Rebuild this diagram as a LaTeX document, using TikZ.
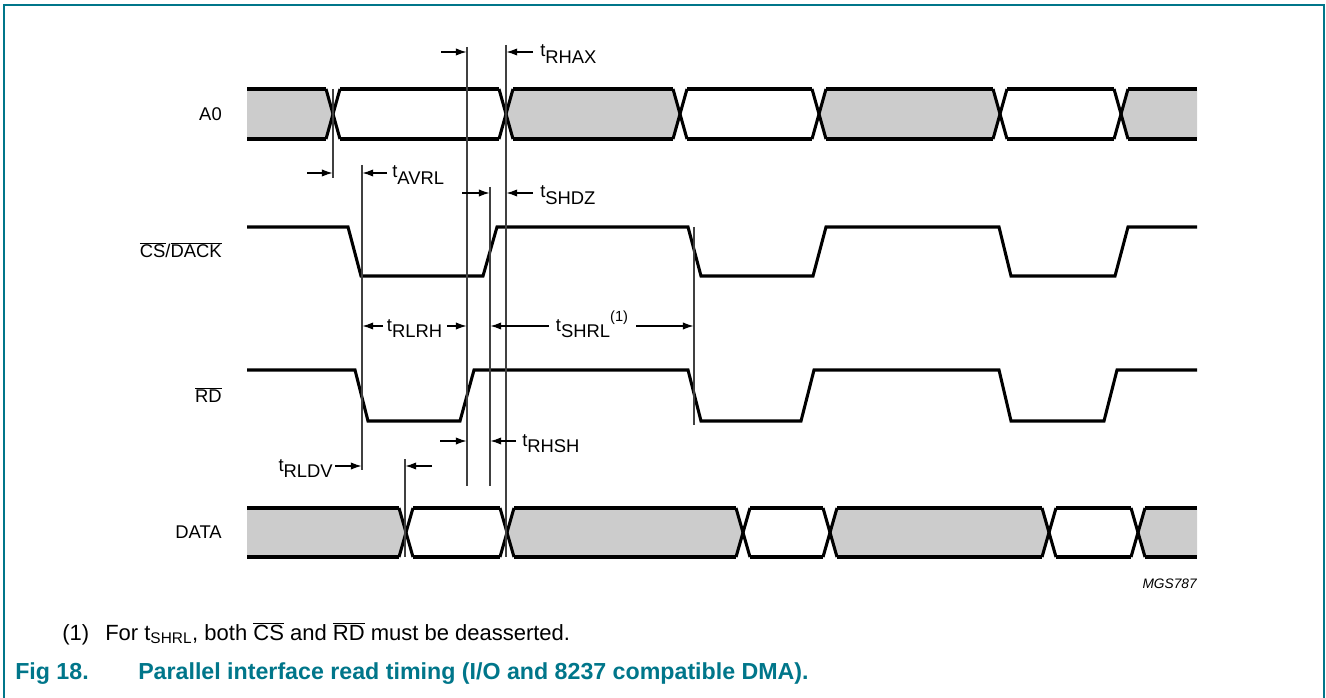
\documentclass[tikz,border=0pt]{standalone}
\usepackage{fontspec}
\setmainfont{Liberation Sans}
\usetikzlibrary{arrows.meta}
\definecolor{nxpteal}{RGB}{0,118,138}
\definecolor{busgray}{RGB}{204,204,204}
\newcommand\tm[1]{t\raisebox{-0.33em}{#1}}
\newcommand\ovl[1]{$\overline{\mbox{#1}}$}
\newcommand\lblfont{\fontsize{13.8}{16}\selectfont}
\begin{document}
\begin{tikzpicture}[x=0.75pt,y=-0.75pt,
  sig/.style={line width=2.3pt,line join=miter},
  guide/.style={line width=0.8pt,black!75},
  tarr/.style={line width=0.8pt,-{Latex[length=8pt,width=5.5pt]}},
  lbl/.style={inner sep=0pt,font=\lblfont},
  noteF/.style={inner sep=0pt,font=\fontsize{16.5}{19}\selectfont},
  capF/.style={inner sep=0pt,font=\fontsize{17.4}{20}\selectfont\bfseries,text=nxpteal}]
\useasboundingbox (0,0) rectangle (1326,698);
% frame
\draw[nxpteal,line width=1.6pt] (4,698) -- (4,5) -- (1324,5) -- (1324,698);

% A0 bus: top 89, bottom 139, mid 114 ; crossings 333,506,680,819,1000,1121
\def\bt{89}\def\bb{139}\def\bm{114}
\fill[busgray] (247,\bt) -- (326,\bt) -- (333,\bm) -- (326,\bb) -- (247,\bb) -- cycle;
\fill[busgray] (506,\bm) -- (513,\bt) -- (673,\bt) -- (680,\bm) -- (673,\bb) -- (513,\bb) -- cycle;
\fill[busgray] (819,\bm) -- (826,\bt) -- (993,\bt) -- (1000,\bm) -- (993,\bb) -- (826,\bb) -- cycle;
\fill[busgray] (1121,\bm) -- (1128,\bt) -- (1197,\bt) -- (1197,\bb) -- (1128,\bb) -- cycle;
\foreach \a/\b in {247/326,340/499,513/673,687/812,826/993,1007/1114,1128/1197}{
  \draw[sig] (\a,\bt) -- (\b,\bt); \draw[sig] (\a,\bb) -- (\b,\bb);}
\foreach \c in {333,506,680,819,1000,1121}{
  \draw[sig] (\c-7,\bt) -- (\c+7,\bb); \draw[sig] (\c-7,\bb) -- (\c+7,\bt);}

% DATA bus: top 508, bottom 557, mid 532.5 ; crossings 406,507,743,830,1049,1138
\def\dt{508}\def\db{557}\def\dm{532.5}
\fill[busgray] (247,\dt) -- (399,\dt) -- (406,\dm) -- (399,\db) -- (247,\db) -- cycle;
\fill[busgray] (507,\dm) -- (514,\dt) -- (736,\dt) -- (743,\dm) -- (736,\db) -- (514,\db) -- cycle;
\fill[busgray] (830,\dm) -- (837,\dt) -- (1042,\dt) -- (1049,\dm) -- (1042,\db) -- (837,\db) -- cycle;
\fill[busgray] (1138,\dm) -- (1145,\dt) -- (1197,\dt) -- (1197,\db) -- (1145,\db) -- cycle;
\foreach \a/\b in {247/399,413/500,514/736,750/823,837/1042,1056/1131,1145/1197}{
  \draw[sig] (\a,\dt) -- (\b,\dt); \draw[sig] (\a,\db) -- (\b,\db);}
\foreach \c in {406,507,743,830,1049,1138}{
  \draw[sig] (\c-7,\dt) -- (\c+7,\db); \draw[sig] (\c-7,\db) -- (\c+7,\dt);}

% CS/DACK
\draw[sig] (247,227) -- (348,227) -- (361,276) -- (483,276) -- (497,227) -- (688,227) -- (701,276)
  -- (813,276) -- (826,227) -- (999,227) -- (1011,276) -- (1115,276) -- (1128,227) -- (1197,227);
% RD
\draw[sig] (247,370) -- (355,370) -- (368,421) -- (460,421) -- (474,370) -- (688,370) -- (701,421)
  -- (801,421) -- (814,370) -- (999,370) -- (1011,421) -- (1104,421) -- (1117,370) -- (1197,370);

% guide lines
\coordinate (L1t) at (333,89);  \coordinate (L1b) at (333,178);
\coordinate (L2t) at (362,165); \coordinate (L2b) at (362,470);
\coordinate (L3t) at (467,47);  \coordinate (L3b) at (467,486);
\coordinate (L4t) at (490,187); \coordinate (L4b) at (490,486);
\coordinate (L5t) at (506,45);  \coordinate (L5b) at (506,557);
\coordinate (L6t) at (694,227); \coordinate (L6b) at (694,425);
\coordinate (L7t) at (405,459); \coordinate (L7b) at (405,557);
\foreach \n in {1,...,7}{\draw[guide] (L\n t) -- (L\n b);}

% timing arrows
\draw[tarr] (441,52) -- (466.5,52);
\draw[tarr] (533,52) -- (506.5,52);
\node[lbl,anchor=base west] (tRHAX) at (540,57) {\tm{RHAX}};

\draw[tarr] (307,173) -- (332.5,173);
\draw[tarr] (387,173) -- (362.5,173);
\node[lbl,anchor=base west] (tAVRL) at (392,178) {\tm{AVRL}};

\draw[tarr] (462,193) -- (489.5,193);
\draw[tarr] (533,193) -- (506.5,193);
\node[lbl,anchor=base west] (tSHDZ) at (540,198) {\tm{SHDZ}};

\node[lbl,anchor=base] (tRLRH) at (414.5,331) {\tm{RLRH}};
\draw[tarr] (383,326) -- (362.5,326);
\draw[tarr] (447,326) -- (466.5,326);

\node[lbl,anchor=base] (tSHRL) at (592,331) {\tm{SHRL}\raisebox{0.5em}{\fontsize{11}{12}\selectfont(1)}};
\draw[tarr] (549,326) -- (490.5,326);
\draw[tarr] (636,326) -- (693.5,326);

\draw[tarr] (440,441) -- (466.5,441);
\draw[tarr] (516,441) -- (490.5,441);
\node[lbl,anchor=base west] (tRHSH) at (522,446) {\tm{RHSH}};

\node[lbl,anchor=base east] (tRLDV) at (333,471) {\tm{RLDV}};
\draw[tarr] (335,466) -- (361.5,466);
\draw[tarr] (432,466) -- (405.5,466);

% signal names
\node[lbl,anchor=east] (nA0) at (222,114) {A0};
\node[lbl,anchor=east] (nCS) at (222,250) {\ovl{CS}/\ovl{DACK}};
\node[lbl,anchor=east] (nRD) at (222,395) {\ovl{RD}};
\node[lbl,anchor=east] (nDATA) at (222,532) {DATA};
\node[inner sep=0pt,anchor=base east,font=\fontsize{10.3}{12}\selectfont\itshape] (mgs) at (1197,588) {MGS787};

% footnote and caption
\node[noteF,anchor=base west] (fn1) at (62,640) {(1)};
\node[noteF,anchor=base west] (fn2) at (105,640) {For t\textsubscript{SHRL}, both \ovl{CS} and \ovl{RD} must be deasserted.};
\node[capF,anchor=base west] (cap1) at (15,679) {Fig 18.};
\node[capF,anchor=base west] (cap2) at (138,679) {Parallel interface read timing (I/O and 8237 compatible DMA).};
\end{tikzpicture}
\end{document}
